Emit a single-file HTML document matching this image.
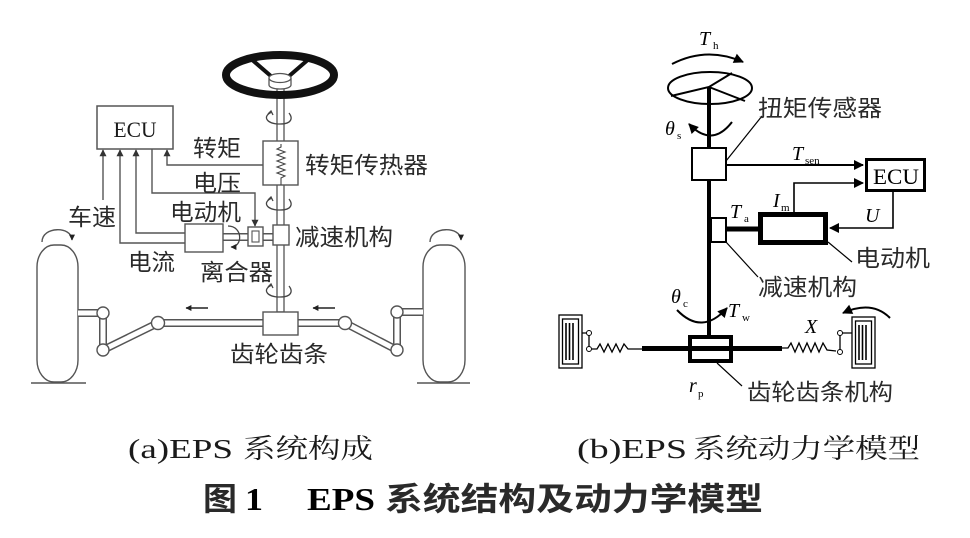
<!DOCTYPE html>
<html><head><meta charset="utf-8"><style>
html,body{margin:0;padding:0;background:#fff;}
svg{display:block;}
.cj{font-family:"Liberation Sans","Noto Sans CJK SC",sans-serif;fill:#2a2a2a;}
.cs{font-family:"Liberation Serif","Noto Serif CJK SC",serif;fill:#1a1a1a;}
.m{font-family:"Liberation Serif",serif;font-style:italic;fill:#000;}
.sb{font-family:"Liberation Serif",serif;fill:#000;}
</style></head><body>
<svg width="970" height="538" viewBox="0 0 970 538" xmlns="http://www.w3.org/2000/svg">
<defs>
<marker id="ag" viewBox="0 0 10 10" refX="9" refY="5" markerUnits="userSpaceOnUse" markerWidth="7" markerHeight="7" orient="auto"><path d="M0,0 L10,5 L0,10 z" fill="#333"/></marker>
<marker id="ab" viewBox="0 0 10 10" refX="9" refY="5" markerUnits="userSpaceOnUse" markerWidth="12" markerHeight="10" orient="auto"><path d="M0,0 L10,5 L0,10 z" fill="#000"/></marker>
<marker id="as" viewBox="0 0 10 10" refX="9" refY="5" markerUnits="userSpaceOnUse" markerWidth="6" markerHeight="6" orient="auto"><path d="M0,0 L10,5 L0,10 z" fill="#222"/></marker>
</defs>

<!-- ============ LEFT DIAGRAM ============ -->
<g fill="none" stroke="#555" stroke-width="1.4">
  <!-- wheels -->
  <rect x="37" y="245" width="41" height="137" rx="17" ry="22" fill="#fff"/>
  <rect x="423" y="245" width="42" height="137" rx="17" ry="22" fill="#fff"/>
  <line x1="31" y1="383" x2="86" y2="383"/>
  <line x1="417" y1="383" x2="470" y2="383"/>
  <!-- wheel rotation arrows -->
  <path d="M42,242 C42,226 72,226 72,240" marker-end="url(#as)"/>
  <path d="M430,242 C430,226 461,226 461,240" marker-end="url(#as)"/>
</g>

<!-- linkage double lines -->
<g fill="none" stroke-linecap="butt" stroke-linejoin="round">
  <path d="M78,313 H103 V350 L158,323 H263 M298,323 H345 L397,350 V312 H423" stroke="#555" stroke-width="8"/>
  <path d="M78,313 H103 V350 L158,323 H263 M298,323 H345 L397,350 V312 H423" stroke="#fff" stroke-width="5"/>
  <!-- motor shaft -->
  <path d="M223,237 H274" stroke="#555" stroke-width="8"/>
  <path d="M223,237 H274" stroke="#fff" stroke-width="5"/>
</g>
<g fill="#fff" stroke="#555" stroke-width="1.4">
  <circle cx="103" cy="313" r="6"/>
  <circle cx="103" cy="350" r="6"/>
  <circle cx="158" cy="323" r="6.5"/>
  <circle cx="345" cy="323" r="6.5"/>
  <circle cx="397" cy="312" r="6"/>
  <circle cx="397" cy="350" r="6"/>
</g>

<!-- steering column -->
<rect x="277" y="86" width="7" height="226" fill="#fff" stroke="#555" stroke-width="1.3"/>

<!-- steering wheel -->
<ellipse cx="280" cy="75" rx="54" ry="20" fill="none" stroke="#111" stroke-width="8"/>
<path d="M250,58 L272,77 M310,58 L288,77" stroke="#111" stroke-width="4" fill="none"/>
<path d="M269,78 v7 a11,4 0 0 0 22,0 v-7" fill="#fff" stroke="#555" stroke-width="1.3"/>
<ellipse cx="280" cy="78" rx="11" ry="4.5" fill="#fff" stroke="#555" stroke-width="1.3"/>

<!-- rotation arrows on column -->
<g fill="none" stroke="#444" stroke-width="1.3">
  <path d="M272,112 C262,116 266,124 280,124 C292,124 293,118 289,113"/>
  <path d="M268,114 l3,-3 l2,4" />
  <path d="M272,198 C262,202 266,210 280,210 C292,210 293,204 289,199"/>
  <path d="M268,200 l3,-3 l2,4" />
  <path d="M272,285 C262,289 266,297 280,297 C292,297 293,291 289,286"/>
  <path d="M268,287 l3,-3 l2,4" />
</g>

<!-- torque sensor -->
<rect x="263" y="141" width="35" height="44" fill="#fff" stroke="#555" stroke-width="1.4"/>
<polyline points="281,144 281,147 277,149 285,152 277,155 285,158 277,161 285,164 277,167 285,170 277,173 285,176 281,178 281,185" fill="none" stroke="#444" stroke-width="1.1"/>

<!-- reducer, clutch, motor -->
<rect x="273" y="225" width="16" height="20" fill="#fff" stroke="#555" stroke-width="1.4"/>
<rect x="248" y="227" width="15" height="19" fill="#fff" stroke="#555" stroke-width="1.4"/>
<rect x="252" y="231" width="7" height="11" fill="#fff" stroke="#555" stroke-width="1.1"/>
<rect x="185" y="224" width="38" height="28" fill="#fff" stroke="#555" stroke-width="1.4"/>
<path d="M228,226 C243,226 243,247 231,247" fill="none" stroke="#444" stroke-width="1.3" marker-end="url(#as)"/>

<!-- rack box -->
<rect x="263" y="312" width="35" height="23" fill="#fff" stroke="#555" stroke-width="1.4"/>

<!-- ECU -->
<rect x="97" y="106" width="76" height="43" fill="#fff" stroke="#555" stroke-width="1.5"/>
<text x="135" y="137" class="cs" font-size="22" text-anchor="middle" textLength="43" lengthAdjust="spacingAndGlyphs">ECU</text>

<!-- signal lines -->
<g fill="none" stroke="#555" stroke-width="1.4">
  <path d="M103,200 V150" marker-end="url(#ag)"/>
  <path d="M185,243 H120 V150" marker-end="url(#ag)"/>
  <path d="M185,233 H136 V150" marker-end="url(#ag)"/>
  <path d="M152,149 V193 H255 V226" marker-end="url(#ag)"/>
  <path d="M263,165 H167 V150" marker-end="url(#ag)"/>
</g>

<!-- horizontal arrows -->
<g stroke="#222" stroke-width="1.4" fill="none">
  <path d="M208,308 H186" marker-end="url(#as)"/>
  <path d="M335,308 H313" marker-end="url(#as)"/>
</g>

<!-- left labels -->
<g class="cj" font-size="23" dominant-baseline="central">
  <text x="193" y="148" textLength="48" lengthAdjust="spacingAndGlyphs">转矩</text>
  <text x="193" y="183" textLength="48" lengthAdjust="spacingAndGlyphs">电压</text>
  <text x="305" y="165" textLength="123" lengthAdjust="spacingAndGlyphs">转矩传热器</text>
  <text x="170" y="212" textLength="71" lengthAdjust="spacingAndGlyphs">电动机</text>
  <text x="68" y="217" textLength="48" lengthAdjust="spacingAndGlyphs">车速</text>
  <text x="295" y="237" textLength="98" lengthAdjust="spacingAndGlyphs">减速机构</text>
  <text x="128" y="262" textLength="47" lengthAdjust="spacingAndGlyphs">电流</text>
  <text x="200" y="272" textLength="73" lengthAdjust="spacingAndGlyphs">离合器</text>
  <text x="230" y="354" textLength="98" lengthAdjust="spacingAndGlyphs">齿轮齿条</text>
</g>

<!-- ============ RIGHT DIAGRAM ============ -->
<g fill="none" stroke="#000">
  <!-- Th arc -->
  <path d="M672,64 Q707,46 743,62" stroke-width="2" marker-end="url(#ab)"/>
  <!-- wheel -->
  <ellipse cx="710" cy="88" rx="42" ry="16" stroke-width="2"/>
  <path d="M671,96 L709,87 L732,73 M709,87 L745,101" stroke-width="2"/>
  <!-- shaft -->
  <line x1="709" y1="87" x2="709" y2="337" stroke-width="4"/>
  <!-- theta s arc -->
  <path d="M732,122 Q712,148 689,124" stroke-width="2" marker-end="url(#ab)"/>
</g>
<rect x="692" y="148" width="34" height="32" fill="#fff" stroke="#000" stroke-width="2"/>
<g fill="none" stroke="#000">
  <path d="M726,161 L762,116" stroke-width="1.2"/>
  <path d="M726,165 H863" stroke-width="2" marker-end="url(#ab)"/>
  <path d="M794,213 V183 H863" stroke-width="1.6" marker-end="url(#ab)"/>
  <path d="M893,192 V228 H830" stroke-width="1.6" marker-end="url(#ab)"/>
  <path d="M726,229 H758" stroke-width="5"/>
  <path d="M828,242 L852,262" stroke-width="1.2"/>
  <path d="M726,242 L758,277" stroke-width="1.2"/>
</g>
<rect x="866.5" y="159.5" width="58" height="31" fill="#fff" stroke="#000" stroke-width="3"/>
<text x="896" y="184" class="sb" font-size="22" text-anchor="middle" textLength="46" lengthAdjust="spacingAndGlyphs">ECU</text>
<rect x="760.5" y="214.5" width="65" height="28" fill="#fff" stroke="#000" stroke-width="5"/>
<rect x="711" y="218" width="15" height="24" fill="#fff" stroke="#000" stroke-width="2"/>

<!-- rack system -->
<path d="M642,348.5 H782" stroke="#000" stroke-width="5"/>
<g fill="none" stroke="#000" stroke-width="1.3">
  <polyline points="592,349 597,349 600,344 604,352 608,344 612,352 616,344 620,352 624,344 628,349 642,349"/>
  <polyline points="782,348 788,348 791,343 795,352 799,343 803,352 807,343 811,352 815,343 819,352 823,343 827,350 836,351"/>
  <path d="M582,333 H589 V349"/>
  <path d="M852,333 H840 V352"/>
  <!-- wheels -->
  <rect x="559" y="315" width="23" height="53" fill="#fff"/>
  <rect x="562.5" y="319" width="16" height="45"/>
  <rect x="852" y="317" width="23" height="51" fill="#fff"/>
  <rect x="855.5" y="321" width="16" height="43"/>
</g>
<g stroke="#000" stroke-width="1.6">
  <line x1="566" y1="323" x2="566" y2="360"/>
  <line x1="569.5" y1="323" x2="569.5" y2="360"/>
  <line x1="573" y1="323" x2="573" y2="360"/>
  <line x1="859" y1="325" x2="859" y2="360"/>
  <line x1="862.5" y1="325" x2="862.5" y2="360"/>
  <line x1="866" y1="325" x2="866" y2="360"/>
</g>
<g fill="#fff" stroke="#000" stroke-width="1">
  <circle cx="589" cy="333" r="2.5"/>
  <circle cx="589" cy="349" r="2.5"/>
  <circle cx="840" cy="333" r="2.5"/>
  <circle cx="840" cy="352" r="2.5"/>
</g>
<rect x="690" y="337" width="41" height="24" fill="none" stroke="#000" stroke-width="4"/>
<g fill="none" stroke="#000">
  <path d="M677,310 Q702,336 727,308" stroke-width="2" marker-end="url(#ab)"/>
  <path d="M890,318 Q872,300 843,313" stroke-width="2" marker-end="url(#ab)"/>
  <path d="M717,363 L742,386" stroke-width="1.2"/>
</g>

<!-- right math labels -->
<text x="699" y="45" class="m" font-size="20">T</text><text x="713" y="49" class="sb" font-size="11">h</text>
<text x="665" y="135" class="m" font-size="20">θ</text><text x="677" y="139" class="sb" font-size="11">s</text>
<text x="792" y="160" class="m" font-size="20">T</text><text x="805" y="164" class="sb" font-size="11">sen</text>
<text x="773" y="207" class="m" font-size="20">I</text><text x="781" y="211" class="sb" font-size="11">m</text>
<text x="730" y="218" class="m" font-size="20">T</text><text x="744" y="222" class="sb" font-size="11">a</text>
<text x="865" y="222" class="m" font-size="20">U</text>
<text x="671" y="303" class="m" font-size="20">θ</text><text x="683" y="307" class="sb" font-size="11">c</text>
<text x="728" y="317" class="m" font-size="20">T</text><text x="742" y="321" class="sb" font-size="11">w</text>
<text x="805" y="333" class="m" font-size="20">X</text>
<text x="689" y="392" class="m" font-size="20">r</text><text x="698" y="397" class="sb" font-size="11">p</text>

<!-- right CJK labels -->
<g class="cj" font-size="23" dominant-baseline="central">
  <text x="758" y="108" textLength="124" lengthAdjust="spacingAndGlyphs">扭矩传感器</text>
  <text x="855" y="258" textLength="75" lengthAdjust="spacingAndGlyphs">电动机</text>
  <text x="758" y="287" textLength="99" lengthAdjust="spacingAndGlyphs">减速机构</text>
  <text x="747" y="392" textLength="146" lengthAdjust="spacingAndGlyphs">齿轮齿条机构</text>
</g>

<!-- ============ CAPTIONS ============ -->
<g dominant-baseline="central">
  <text x="128" y="449" class="cs" font-size="27" textLength="105" lengthAdjust="spacingAndGlyphs">(a)EPS</text>
  <text x="243" y="449" class="cs" font-size="27" textLength="130" lengthAdjust="spacingAndGlyphs">系统构成</text>
  <text x="577" y="449" class="cs" font-size="27" textLength="110" lengthAdjust="spacingAndGlyphs">(b)EPS</text>
  <text x="693" y="449" class="cs" font-size="27" textLength="227" lengthAdjust="spacingAndGlyphs">系统动力学模型</text>

  <text x="203" y="499" class="cj" font-size="32" font-weight="bold" fill="#111" textLength="34" lengthAdjust="spacingAndGlyphs">图</text>
  <text x="245" y="499" class="sb" font-size="32" font-weight="bold" textLength="18" lengthAdjust="spacingAndGlyphs">1</text>
  <text x="307" y="499" class="sb" font-size="32" font-weight="bold" textLength="68" lengthAdjust="spacingAndGlyphs">EPS</text>
  <text x="385" y="499" class="cj" font-size="32" font-weight="bold" textLength="378" lengthAdjust="spacingAndGlyphs">系统结构及动力学模型</text>
</g>
</svg>
</body></html>
